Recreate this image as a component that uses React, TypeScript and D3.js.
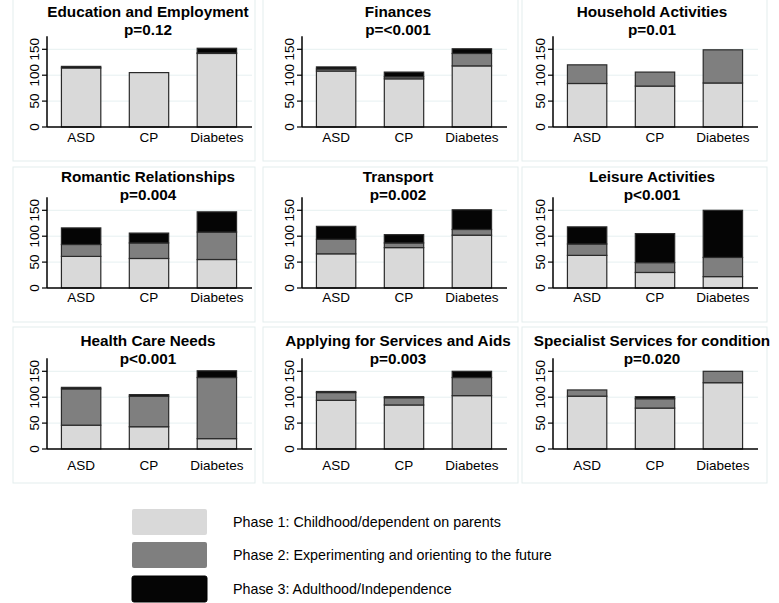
import React from "react";
import * as d3 from "d3";

const groups = ["ASD", "CP", "Diabetes"];
const titles = [
  "Education and Employment",
  "Finances",
  "Household Activities",
  "Romantic Relationships",
  "Transport",
  "Leisure Activities",
  "Health Care Needs",
  "Applying for Services and Aids",
  "Specialist Services for condition",
];
const pValues = ["p=0.12", "p=<0.001", "p=0.01", "p=0.004", "p=0.002", "p<0.001", "p<0.001", "p=0.003", "p=0.020"];
// per panel: values per group [ASD, CP, Diabetes]
const phase1 = [
  [114, 105, 142],
  [108, 93, 118],
  [84, 79, 85],
  [61, 57, 55],
  [66, 78, 102],
  [63, 30, 22],
  [46, 43, 20],
  [94, 85, 103],
  [102, 79, 128],
];
const phase2 = [
  [0, 0, 1],
  [4, 4, 24],
  [36, 27, 64],
  [23, 30, 53],
  [28, 9, 11],
  [22, 19, 37],
  [70, 59, 118],
  [15, 14, 35],
  [12, 18, 22],
];
const phase3 = [
  [3, 0, 9],
  [4, 9, 9],
  [0, 0, 0],
  [32, 19, 39],
  [25, 16, 38],
  [33, 56, 91],
  [3, 3, 13],
  [2, 2, 12],
  [0, 4, 0],
];
const yTicks = [0, 50, 100, 150];
const legendLabels = [
  "Phase 1: Childhood/dependent on parents",
  "Phase 2: Experimenting and orienting to the future",
  "Phase 3: Adulthood/Independence",
];
const colors = ["#d9d9d9", "#7f7f7f", "#050505"];

const colAxisX = [47, 302, 553];
const colTitleX = [148, 398, 652];
const rowZeroY = [127, 288, 449];
const rowTitleY = [11, 176, 340];
const rowPY = [29, 194, 358];
const rowLabelOff = [10, 9, 16];
const colBox = [
  [13, 255],
  [263, 518],
  [522, 767],
];
const rowBox = [
  [-1, 161],
  [167, 322],
  [327, 483],
];

const FONT = "'Liberation Sans', Arial, Helvetica, sans-serif";

function Panel({ i }: { i: number }) {
  const col = i % 3;
  const row = Math.floor(i / 3);
  const ax = colAxisX[col];
  const zy = rowZeroY[row];
  const y = d3.scaleLinear().domain([0, 175]).range([zy, zy - 0.518 * 175]);
  const x = d3.scaleBand<string>().domain(groups).range([ax + 9, ax + 195]).paddingInner(0.42).paddingOuter(0.08);
  const series = [phase1[i], phase2[i], phase3[i]];
  const rows = groups.map((g, gi) => ({ g, p1: series[0][gi], p2: series[1][gi], p3: series[2][gi] }));
  const stacked = d3.stack<any>().keys(["p1", "p2", "p3"])(rows);
  const axisEnd = ax + 205;
  return (
    <g>
      <rect
        x={colBox[col][0]}
        y={rowBox[row][0]}
        width={colBox[col][1] - colBox[col][0]}
        height={rowBox[row][1] - rowBox[row][0]}
        fill="none"
        stroke="#e3eded"
        strokeWidth={1}
      />
      {yTicks.slice(1).map((t) => (
        <line key={t} x1={ax} x2={axisEnd} y1={y(t)} y2={y(t)} stroke="#e6f0f1" strokeWidth={1} />
      ))}
      {stacked.map((layer, li) =>
        layer.map((d, gi) =>
          d[1] - d[0] > 0 ? (
            <rect
              key={`${li}-${gi}`}
              x={x(groups[gi])}
              width={x.bandwidth()}
              y={y(d[1])}
              height={y(d[0]) - y(d[1])}
              fill={colors[li]}
              stroke="#2a2a2a"
              strokeWidth={1.2}
            />
          ) : null
        )
      )}
      <line x1={ax} x2={ax} y1={zy} y2={y(175)} stroke="#000" strokeWidth={1.5} />
      <line x1={ax} x2={axisEnd} y1={zy} y2={zy} stroke="#000" strokeWidth={1.5} />
      {yTicks.map((t) => (
        <g key={t}>
          <line x1={ax - 5} x2={ax} y1={y(t)} y2={y(t)} stroke="#000" strokeWidth={1.2} />
          <text
            transform={`translate(${ax - 13},${y(t)}) rotate(-90)`}
            textAnchor="middle"
            dominantBaseline="central"
            fontSize={13.5}
            fontFamily={FONT}
          >
            {t}
          </text>
        </g>
      ))}
      {groups.map((g) => (
        <text
          key={g}
          x={(x(g) as number) + x.bandwidth() / 2}
          y={zy + rowLabelOff[row]}
          textAnchor="middle"
          dominantBaseline="central"
          fontSize={13.5}
          fontFamily={FONT}
        >
          {g}
        </text>
      ))}
      <text x={colTitleX[col]} y={rowTitleY[row]} textAnchor="middle" dominantBaseline="central" fontSize={15.3} fontWeight="bold" fontFamily={FONT}>
        {titles[i]}
      </text>
      <text x={colTitleX[col]} y={rowPY[row]} textAnchor="middle" dominantBaseline="central" fontSize={15.3} fontWeight="bold" fontFamily={FONT}>
        {pValues[i]}
      </text>
    </g>
  );
}

export default function App() {
  const legendY = [522, 555, 589];
  return (
    <svg
      width={779}
      height={603}
      style={{ position: "absolute", left: 0, top: 0, background: "#fff" }}
    >
      <rect x={0} y={0} width={779} height={603} fill="#fff" />
      {titles.map((_, i) => (
        <Panel key={i} i={i} />
      ))}
      {legendLabels.map((l, i) => (
        <g key={l}>
          <rect x={132} y={legendY[i] - 13} width={75} height={26} rx={2} fill={colors[i]} stroke={i === 2 ? "#000" : "none"} />
          <text x={233} y={legendY[i]} dominantBaseline="central" fontSize={14.3} fontFamily={FONT}>
            {l}
          </text>
        </g>
      ))}
    </svg>
  );
}
